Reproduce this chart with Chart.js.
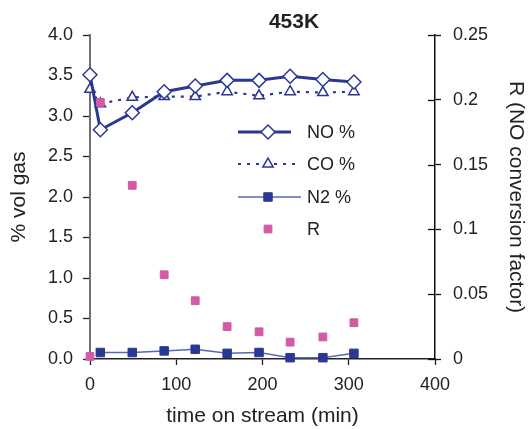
<!DOCTYPE html>
<html>
<head>
<meta charset="utf-8">
<script src="https://cdn.jsdelivr.net/npm/chart.js@4"></script>
<style>
  html, body { margin: 0; padding: 0; background: #fff; }
  canvas { display: block; }
</style>
</head>
<body>
<canvas id="chart" width="528" height="429"></canvas>
<script>
// 453K run: gas composition and R over time on stream
const timeMin = [0, 12, 49, 86, 122, 159, 196, 232, 270, 306];
const noPct   = [3.51, 2.83, 3.04, 3.30, 3.37, 3.44, 3.44, 3.49, 3.45, 3.42];
const coPct   = [3.33, 3.15, 3.23, 3.24, 3.24, 3.30, 3.25, 3.30, 3.29, 3.30];
const n2Pct   = [null, 0.08, 0.08, 0.10, 0.12, 0.07, 0.08, 0.016, 0.016, 0.07];
const rFactor = [0.002, 0.198, 0.134, 0.065, 0.045, 0.025, 0.021, 0.013, 0.017, 0.028];

const leftTicks  = ['0.0', '0.5', '1.0', '1.5', '2.0', '2.5', '3.0', '3.5', '4.0'];
const rightTicks = ['0', '0.05', '0.1', '0.15', '0.2', '0.25'];
const xTicks     = ['0', '100', '200', '300', '400'];
const seriesNames = ['NO %', 'CO %', 'N2 %', 'R'];

const navy = '#2b3893';
const lightNavy = '#5766b8';
const pink = '#d25aa6';
const FONT = "'Liberation Sans', Arial, sans-serif";

const pts = (ys) => timeMin.map((t, i) => ({ x: t, y: ys[i] }));

// inner half of the right-axis ticks + title + legend
const extras = {
  id: 'extras',
  afterDraw(chart) {
    const c = chart.ctx;
    const y1 = chart.scales.y1;
    c.save();
    c.strokeStyle = '#111';
    c.lineWidth = 1.3;
    y1.ticks.forEach(t => {
      const py = Math.round(y1.getPixelForValue(t.value)) + 0.5;
      c.beginPath();
      c.moveTo(y1.left - 7, py);
      c.lineTo(y1.left, py);
      c.stroke();
    });

    // title
    c.fillStyle = '#222';
    c.font = 'bold 21px ' + FONT;
    c.textAlign = 'center';
    c.textBaseline = 'middle';
    c.fillText('453K', 294, 22);

    // legend
    const rows = [132, 164, 197, 229];
    const textX = 307;
    c.font = '18px ' + FONT;
    c.textAlign = 'left';
    const ds = chart.data.datasets;
    rows.forEach((ry, i) => {
      const d = ds[i];
      if (d.showLine !== false) {
        c.strokeStyle = d.borderColor;
        c.lineWidth = d.borderWidth;
        c.setLineDash(d.borderDash || []);
        c.beginPath();
        c.moveTo(238, ry);
        c.lineTo(i === 2 ? 301 : (i === 1 ? 296 : 291), ry);
        c.stroke();
        c.setLineDash([]);
      }
      c.fillStyle = d.pointBackgroundColor;
      c.strokeStyle = d.pointBorderColor;
      c.lineWidth = d.pointBorderWidth;
      Chart.helpers.drawPoint(c, {
        pointStyle: d.pointStyle, radius: d.pointRadius,
        rotation: 0, borderWidth: d.pointBorderWidth
      }, 268, ry);
      c.fillStyle = '#222';
      c.fillText(seriesNames[i], textX, ry + 1);
    });
    c.restore();
  }
};

new Chart(document.getElementById('chart'), {
  type: 'scatter',
  data: {
    datasets: [{
      label: seriesNames[0],
      data: pts(noPct),
      showLine: true,
      borderColor: navy,
      borderWidth: 3,
      pointStyle: 'rectRot',
      pointRadius: 7,
      pointBackgroundColor: '#fff',
      pointBorderColor: navy,
      pointBorderWidth: 1.5,
      yAxisID: 'y',
      clip: false,
      order: 1
    }, {
      label: seriesNames[1],
      data: pts(coPct),
      showLine: true,
      borderColor: navy,
      borderWidth: 2.2,
      borderDash: [3, 6],
      pointStyle: 'triangle',
      pointRadius: 6,
      pointBackgroundColor: '#fff',
      pointBorderColor: navy,
      pointBorderWidth: 1.5,
      yAxisID: 'y',
      clip: false,
      order: 2
    }, {
      label: seriesNames[2],
      data: pts(n2Pct),
      showLine: true,
      borderColor: lightNavy,
      borderWidth: 1.5,
      pointStyle: 'rect',
      pointRadius: 6,
      pointBackgroundColor: navy,
      pointBorderColor: navy,
      pointBorderWidth: 1,
      yAxisID: 'y',
      clip: false,
      order: 3
    }, {
      label: seriesNames[3],
      data: pts(rFactor),
      showLine: false,
      pointStyle: 'rect',
      pointRadius: 5.5,
      pointBackgroundColor: pink,
      pointBorderColor: pink,
      pointBorderWidth: 1,
      yAxisID: 'y1',
      clip: false,
      order: 0
    }]
  },
  options: {
    responsive: false,
    animation: false,
    layout: { padding: { top: 35, left: 0, right: 0, bottom: 0 } },
    plugins: { legend: { display: false }, tooltip: { enabled: false } },
    scales: {
      x: {
        type: 'linear',
        min: 0, max: 400,
        ticks: {
          stepSize: 100,
          color: '#222',
          font: { family: FONT, size: 18 },
          padding: 9,
          maxRotation: 0,
          callback: (v) => xTicks[v / 100]
        },
        grid: { drawOnChartArea: false, tickLength: 6, tickColor: '#222', tickWidth: 1.3 },
        border: { color: '#222', width: 1.5 },
        title: {
          display: true, text: 'time on stream (min)', color: '#222',
          font: { family: FONT, size: 21 }, padding: { top: 0, bottom: 0 }
        },
        afterFit: (s) => { s.height = 70; }
      },
      y: {
        position: 'left',
        min: 0, max: 4,
        ticks: {
          stepSize: 0.5,
          color: '#222',
          font: { family: FONT, size: 18 },
          padding: 10,
          callback: (v) => leftTicks[Math.round(v / 0.5)]
        },
        grid: { drawOnChartArea: false, tickLength: 7, tickColor: '#222', tickWidth: 1.3 },
        border: { color: '#707070', width: 2 },
        title: {
          display: true, text: '% vol gas', color: '#222',
          font: { family: FONT, size: 21 }, padding: { top: 7, bottom: 0 }
        },
        afterFit: (s) => { s.width = 90; }
      },
      y1: {
        position: 'right',
        min: 0, max: 0.25,
        ticks: {
          stepSize: 0.05,
          color: '#222',
          font: { family: FONT, size: 18 },
          padding: 12,
          callback: (v) => rightTicks[Math.round(v / 0.05)]
        },
        grid: { drawOnChartArea: false, tickLength: 6, tickColor: '#111', tickWidth: 1.3 },
        border: { color: '#111', width: 1.5 },
        title: {
          display: true, text: 'R (NO conversion factor)', color: '#222',
          font: { family: FONT, size: 21 }, padding: { top: 0, bottom: 0 }
        },
        afterFit: (s) => { s.width = 93; }
      }
    }
  },
  plugins: [extras]
});
</script>
</body>
</html>
